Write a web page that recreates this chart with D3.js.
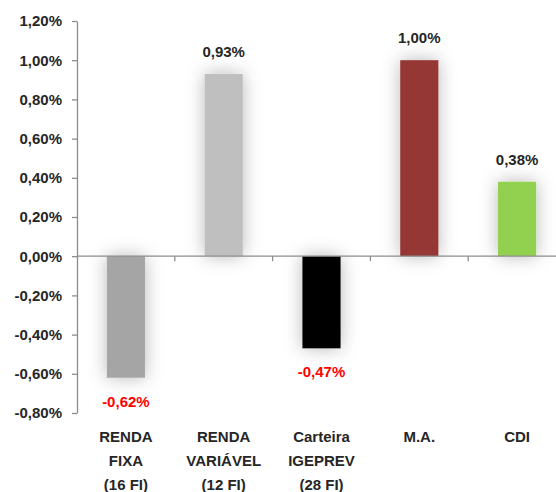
<!DOCTYPE html>
<html>
<head>
<meta charset="utf-8">
<script src="https://cdn.jsdelivr.net/npm/d3@7"></script>
<style>
  body { margin: 0; background: #fff; }
  svg { display: block; font-family: "Liberation Sans", Arial, sans-serif; }
</style>
</head>
<body>
<div id="chart"></div>
<script>
// chart data (percent units)
var categories = ["RENDA FIXA (16 FI)", "RENDA VARIÁVEL (12 FI)", "Carteira IGEPREV (28 FI)", "M.A.", "CDI"];
var labelLines = [["RENDA", "FIXA", "(16 FI)"], ["RENDA", "VARIÁVEL", "(12 FI)"], ["Carteira", "IGEPREV", "(28 FI)"], ["M.A."], ["CDI"]];
var values = [-0.62, 0.93, -0.47, 1.00, 0.38];
var barColors = ["#a5a5a5", "#bfbfbf", "#000000", "#953735", "#92d050"];
var yTicks = [-0.8, -0.6, -0.4, -0.2, 0, 0.2, 0.4, 0.6, 0.8, 1.0, 1.2];

var width = 556, height = 492;

var ptBR = d3.formatLocale({ decimal: ",", thousands: ".", grouping: [3], currency: ["R$", ""], minus: "-" });
var fmt = function(v) { return ptBR.format(".2f")(v) + "%"; };

var svg = d3.select("#chart").append("svg")
    .attr("width", width)
    .attr("height", height);

// soft shadow like the excel bars
var filter = svg.append("defs").append("filter")
    .attr("id", "shadow")
    .attr("x", "-100%").attr("y", "-50%")
    .attr("width", "300%").attr("height", "200%");
filter.append("feGaussianBlur").attr("in", "SourceAlpha").attr("stdDeviation", 9).attr("result", "blur");
filter.append("feFlood").attr("flood-color", "#000").attr("flood-opacity", 0.28).attr("result", "col");
filter.append("feComposite").attr("in", "col").attr("in2", "blur").attr("operator", "in").attr("result", "sh");
var merge = filter.append("feMerge");
merge.append("feMergeNode").attr("in", "sh");
merge.append("feMergeNode").attr("in", "SourceGraphic");

var x = d3.scaleBand().domain(categories).range([77, 566]).padding(0);
var y = d3.scaleLinear().domain([-0.8, 1.2]).range([413, 21]);

var barW = x.bandwidth() * 0.39;

// bars
svg.selectAll(".bar")
    .data(values)
    .enter()
    .append("rect")
    .attr("class", "bar")
    .attr("x", function(d, i) { return x(categories[i]) + x.bandwidth() / 2 - barW / 2; })
    .attr("width", barW)
    .attr("y", function(d) { return y(Math.max(0, d)); })
    .attr("height", function(d) { return Math.abs(y(d) - y(0)); })
    .attr("fill", function(d, i) { return barColors[i]; })
    .attr("filter", "url(#shadow)");

// y axis
var yAxis = svg.append("g")
    .attr("transform", "translate(77,0)")
    .call(d3.axisLeft(y).tickValues(yTicks).tickFormat(fmt).tickSize(5).tickSizeOuter(0).tickPadding(10));
yAxis.select(".domain").attr("stroke", "#8c8c8c").attr("stroke-width", 1.3);
yAxis.selectAll(".tick line").attr("stroke", "#8c8c8c").attr("stroke-width", 1.3);
yAxis.selectAll(".tick text")
    .attr("fill", "#262626")
    .style("font-size", "15px")
    .style("font-weight", "bold")
    .style("font-family", "'Liberation Sans', Arial, sans-serif");

// x axis at zero line with ticks at category boundaries
var x0 = y(0);
svg.append("line")
    .attr("x1", 77).attr("x2", width)
    .attr("y1", x0).attr("y2", x0)
    .attr("stroke", "#8c8c8c").attr("stroke-width", 1.3);
svg.selectAll(".xtick")
    .data(categories.slice(1))
    .enter()
    .append("line")
    .attr("class", "xtick")
    .attr("x1", function(d) { return x(d); })
    .attr("x2", function(d) { return x(d); })
    .attr("y1", x0).attr("y2", x0 + 5)
    .attr("stroke", "#8c8c8c").attr("stroke-width", 1.3);

// value labels
svg.selectAll(".val")
    .data(values)
    .enter()
    .append("text")
    .attr("class", "val")
    .attr("x", function(d, i) { return x(categories[i]) + x.bandwidth() / 2; })
    .attr("y", function(d) { return d >= 0 ? y(d) - 17 : y(d) + 29; })
    .attr("text-anchor", "middle")
    .attr("fill", function(d) { return d < 0 ? "#ff0000" : "#262626"; })
    .style("font-size", "15px")
    .style("font-weight", "bold")
    .text(fmt);

// category labels
svg.selectAll(".cat")
    .data(categories)
    .enter()
    .append("text")
    .attr("class", "cat")
    .attr("x", function(d) { return x(d) + x.bandwidth() / 2; })
    .attr("y", 442)
    .attr("text-anchor", "middle")
    .attr("fill", "#262626")
    .style("font-size", "15px")
    .style("font-weight", "bold")
    .selectAll("tspan")
    .data(function(d, i) { return labelLines[i]; })
    .enter()
    .append("tspan")
    .attr("x", function() { var c = this.parentNode.__data__; return x(c) + x.bandwidth() / 2; })
    .attr("dy", function(d, j) { return j === 0 ? 0 : 24; })
    .text(function(d) { return d; });
</script>
</body>
</html>
